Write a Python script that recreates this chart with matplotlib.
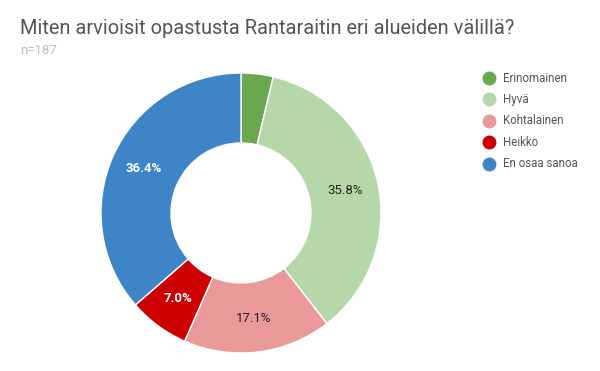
import matplotlib.pyplot as plt
from matplotlib.lines import Line2D
import numpy as np

plt.rcParams['font.family'] = ['Roboto', 'DejaVu Sans']

categories = ["Erinomainen", "Hyvä", "Kohtalainen", "Heikko", "En osaa sanoa"]
values = [3.7, 35.8, 17.1, 7.0, 36.4]
colors = ["#6aa84f", "#b6d7a8", "#ea9999", "#cc0000", "#3d85c6"]
label_colors = ["#222222", "#222222", "#222222", "#ffffff", "#ffffff"]

fig = plt.figure(figsize=(6, 3.71), dpi=100)
ax = fig.add_axes([241/600 - 140/600, 1 - 213/371 - 140/371, 280/600, 280/371])

wedges, _ = ax.pie(values, colors=colors, startangle=90, counterclock=False,
                   radius=1, wedgeprops=dict(width=0.5, edgecolor="white", linewidth=1))
ax.set_xlim(-1, 1)
ax.set_ylim(-1, 1)
ax.set_aspect("equal")

# percentage labels in the middle of the ring
start = 90.0
total = sum(values)
for v, c in zip(values, label_colors):
    ang = start - v / total * 360 / 2
    start -= v / total * 360
    if v < 5:
        continue
    x = 0.76 * np.cos(np.radians(ang))
    y = 0.76 * np.sin(np.radians(ang))
    ax.text(x, y, f"{v:.1f}%", ha="center", va="center", fontsize=9.5, color=c,
            fontweight="bold" if c == "#ffffff" else "normal")

fig.text(20/600, 1 - 28/371, "Miten arvioisit opastusta Rantaraitin eri alueiden välillä?",
         fontsize=14.4, color="#555555", va="center", ha="left")
fig.text(20/600, 1 - 50/371, "n=187", fontsize=9.5, color="#bbbbbb", va="center", ha="left")

ys = [78, 99, 121, 142, 164]
for name, col, yy in zip(categories, colors, ys):
    fig.add_artist(Line2D([489/600], [1 - yy/371], marker="o", markersize=9,
                          color=col, transform=fig.transFigure))
    fig.text(503/600, 1 - yy/371, name, fontsize=8.3, color="#555555", va="center", ha="left")

fig.savefig("out.png", dpi=100)
